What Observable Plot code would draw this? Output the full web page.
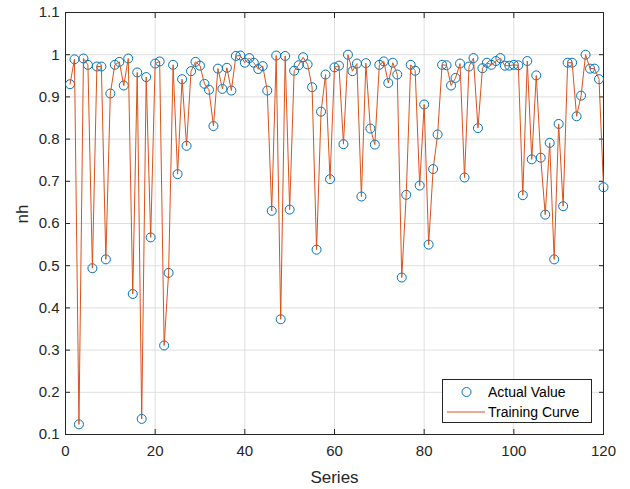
<!DOCTYPE html>
<html>
<head>
<meta charset="utf-8">
<script src="https://cdn.jsdelivr.net/npm/d3@7"></script>
<script src="https://cdn.jsdelivr.net/npm/@observablehq/plot@0.6"></script>
<style>
  html, body { margin: 0; padding: 0; background: #fff; }
  #wrap { position: relative; width: 630px; height: 489px; font-family: "Liberation Sans", Arial, sans-serif; }
  #legend { position: absolute; left: 442px; top: 379px; width: 150px; height: 44px; background: #fff; border: 1px solid #262626; box-sizing: border-box; font-size: 14px; color: #000; }
  #legend .row { position: absolute; left: 0; height: 20px; display: flex; align-items: center; }
  #legend svg { display: block; }
</style>
</head>
<body>
<div id="wrap">
  <div id="chart"></div>
  <div id="legend">
    <div class="row" style="top:2px"><svg width="45" height="20"><circle cx="23.5" cy="10" r="4.5" fill="none" stroke="#0072BD" stroke-width="1"/></svg><span>Actual Value</span></div>
    <div class="row" style="top:22px"><svg width="45" height="20"><line x1="4" x2="42" y1="10" y2="10" stroke="#D95319" stroke-width="1"/></svg><span>Training Curve</span></div>
  </div>
</div>
<script>
const seriesTitle = "Series";
const valueTitle = "nh";
const xTicks = [0, 20, 40, 60, 80, 100, 120];
const yTicks = [0.1, 0.2, 0.3, 0.4, 0.5, 0.6, 0.7, 0.8, 0.9, 1.0, 1.1];
const actualValue = [
  0.930, 0.989, 0.124, 0.991, 0.976, 0.494, 0.972, 0.972, 0.515, 0.908,
  0.976, 0.983, 0.927, 0.991, 0.433, 0.958, 0.137, 0.947, 0.567, 0.979,
  0.984, 0.311, 0.483, 0.976, 0.717, 0.942, 0.784, 0.961, 0.983, 0.974,
  0.931, 0.917, 0.831, 0.967, 0.919, 0.969, 0.915, 0.997, 0.998, 0.981,
  0.992, 0.981, 0.966, 0.973, 0.915, 0.630, 0.998, 0.373, 0.997, 0.633,
  0.962, 0.975, 0.994, 0.977, 0.923, 0.538, 0.865, 0.953, 0.705, 0.970,
  0.974, 0.788, 1.000, 0.961, 0.979, 0.664, 0.980, 0.825, 0.787, 0.976,
  0.984, 0.933, 0.981, 0.953, 0.472, 0.668, 0.976, 0.962, 0.690, 0.882,
  0.550, 0.729, 0.811, 0.976, 0.975, 0.927, 0.945, 0.979, 0.709, 0.972,
  0.992, 0.826, 0.968, 0.981, 0.976, 0.985, 0.992, 0.974, 0.974, 0.976,
  0.975, 0.667, 0.985, 0.752, 0.951, 0.756, 0.621, 0.791, 0.515, 0.836,
  0.641, 0.981, 0.981, 0.854, 0.903, 1.000, 0.967, 0.967, 0.942, 0.686
];
const trainingCurve = actualValue.slice();
const seriesIndex = actualValue.map((_, i) => i + 1);

const actualData = seriesIndex.map((s, i) => ({s, v: actualValue[i]}));
const curveData = seriesIndex.map((s, i) => ({s, v: trainingCurve[i]}));

const fmt = d => String(+d.toFixed(1));
const axisColor = "#262626";

const chart = Plot.plot({
  width: 630,
  height: 489,
  marginLeft: 65,
  marginRight: 27,
  marginTop: 12,
  marginBottom: 55,
  style: {fontFamily: "'Liberation Sans', Arial, sans-serif", fontSize: "15px", color: "#262626", background: "#fff"},
  x: {domain: [0, 120]},
  y: {domain: [0.1, 1.1]},
  marks: [
    Plot.gridX(xTicks, {stroke: "#dfdfdf", strokeOpacity: 1}),
    Plot.gridY(yTicks, {stroke: "#dfdfdf", strokeOpacity: 1}),
    Plot.axisX(xTicks, {anchor: "bottom", tickSize: 0, tickPadding: 11, tickFormat: fmt, label: null, fill: "#262626"}),
    Plot.axisX(xTicks, {anchor: "bottom", tickSize: -5, tickFormat: () => "", label: null, stroke: axisColor}),
    Plot.axisX(xTicks, {anchor: "top", tickSize: -5, tickFormat: () => "", label: null, stroke: axisColor}),
    Plot.axisY(yTicks, {anchor: "left", tickSize: 0, tickPadding: 6, tickFormat: fmt, label: null, fill: "#262626"}),
    Plot.axisY(yTicks, {anchor: "left", tickSize: -5, tickFormat: () => "", label: null, stroke: axisColor}),
    Plot.axisY(yTicks, {anchor: "right", tickSize: -5, tickFormat: () => "", label: null, stroke: axisColor}),
    Plot.frame({stroke: axisColor, strokeWidth: 1}),
    Plot.dot(actualData, {x: "s", y: "v", r: 4.5, stroke: "#0072BD", fill: "none", strokeWidth: 1}),
    Plot.line(curveData, {x: "s", y: "v", stroke: "#D95319", strokeWidth: 1}),
    Plot.text([seriesTitle], {frameAnchor: "bottom", dy: 48, fontSize: 17, fill: "#262626"}),
    Plot.text([valueTitle], {frameAnchor: "left", dx: -43, rotate: -90, fontSize: 17, fill: "#262626"})
  ]
});
document.getElementById("chart").appendChild(chart);
</script>
</body>
</html>
